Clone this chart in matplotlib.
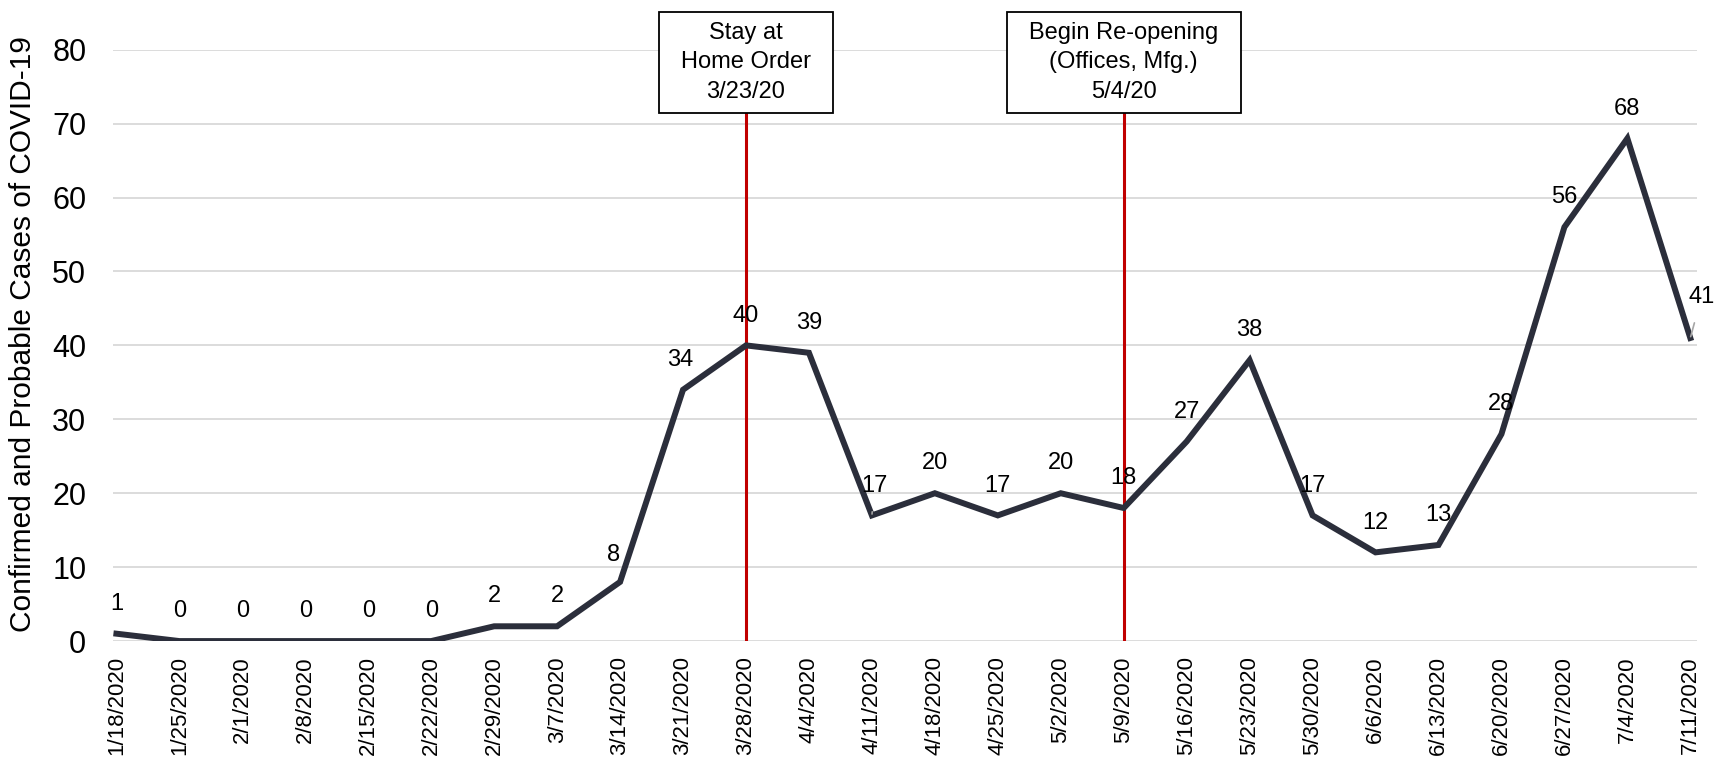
import matplotlib
matplotlib.use('Agg')
from matplotlib import pyplot as plt
from matplotlib.path import Path

plt.rcParams['font.family'] = ['Liberation Sans', 'DejaVu Sans']

weeks = ['1/18/2020', '1/25/2020', '2/1/2020', '2/8/2020', '2/15/2020', '2/22/2020',
         '2/29/2020', '3/7/2020', '3/14/2020', '3/21/2020', '3/28/2020', '4/4/2020',
         '4/11/2020', '4/18/2020', '4/25/2020', '5/2/2020', '5/9/2020', '5/16/2020',
         '5/23/2020', '5/30/2020', '6/6/2020', '6/13/2020', '6/20/2020', '6/27/2020',
         '7/4/2020', '7/11/2020']
cases = [1, 0, 0, 0, 0, 0, 2, 2, 8, 34, 40, 39, 17, 20, 17, 20, 18, 27, 38, 17, 12, 13,
         28, 56, 68, 41]

events = ['3/28/2020', '5/9/2020']
eventText = ['Stay at\nHome Order\n3/23/20', 'Begin Re-opening\n(Offices, Mfg.)\n5/4/20']

# label offsets (points) where excel nudged them
labelShift = {8: (-5, -2), 9: (-2, 0), 12: (2, 0), 25: (8, 8)}
leader = {12, 25}


def wideBox(x0, y0, width, height, mutation_size):
    # square box, more padding left/right than top/bottom
    px = 0.95 * mutation_size
    py = 0.42 * mutation_size
    x0, y0 = x0 - px, y0 - py
    x1, y1 = x0 + width + 2 * px, y0 + height + 2 * py
    return Path([(x0, y0), (x1, y0), (x1, y1), (x0, y1), (x0, y0)], closed=True)


fig = plt.figure(figsize=(17.33, 7.65), dpi=100)
ax = fig.add_axes([0.065, 0.162, 0.914, 0.773])

x = list(range(len(weeks)))
ax.plot(x, cases, color='#2b2e3b', linewidth=4.3, solid_joinstyle='miter', zorder=3)

for i, v in enumerate(cases):
    dx, dy = labelShift.get(i, (0, 0))
    if i in leader:
        ax.annotate(str(v), xy=(i, v), xytext=(dx, 21.5 + dy), textcoords='offset points',
                    ha='center', va='center', fontsize=17,
                    arrowprops=dict(arrowstyle='-', color='#a6a6a6', lw=1.2,
                                    shrinkA=9, shrinkB=1))
    else:
        ax.annotate(str(v), xy=(i, v), xytext=(dx, 21.5 + dy), textcoords='offset points',
                    ha='center', va='center', fontsize=17)

for ev, txt in zip(events, eventText):
    xi = weeks.index(ev)
    ax.plot([xi, xi], [0, 71.5], color='#c00000', linewidth=2.2, zorder=2)
    ax.text(xi, 78.3, txt, ha='center', va='center', fontsize=17, linespacing=1.45,
            bbox=dict(boxstyle=wideBox, facecolor='white', edgecolor='black', lw=1.3),
            zorder=4)

ax.set_xlim(-0.06, len(weeks) - 1 + 0.1)
ax.set_ylim(0, 80)
ax.set_yticks(range(0, 81, 10))
ax.set_xticks(x)
ax.set_xticklabels(weeks, rotation=90, fontsize=16)
ax.tick_params(axis='y', labelsize=22, length=0, pad=19)
ax.tick_params(axis='x', length=0, pad=11)
ax.yaxis.grid(True, color='#d9d9d9', linewidth=1.3)
ax.set_axisbelow(True)
for s in ax.spines.values():
    s.set_visible(False)
ax.set_ylabel('Confirmed and Probable Cases of COVID-19', fontsize=21.5)
ax.yaxis.set_label_coords(-0.048, 0.52)

fig.savefig('out.png', dpi=100)
